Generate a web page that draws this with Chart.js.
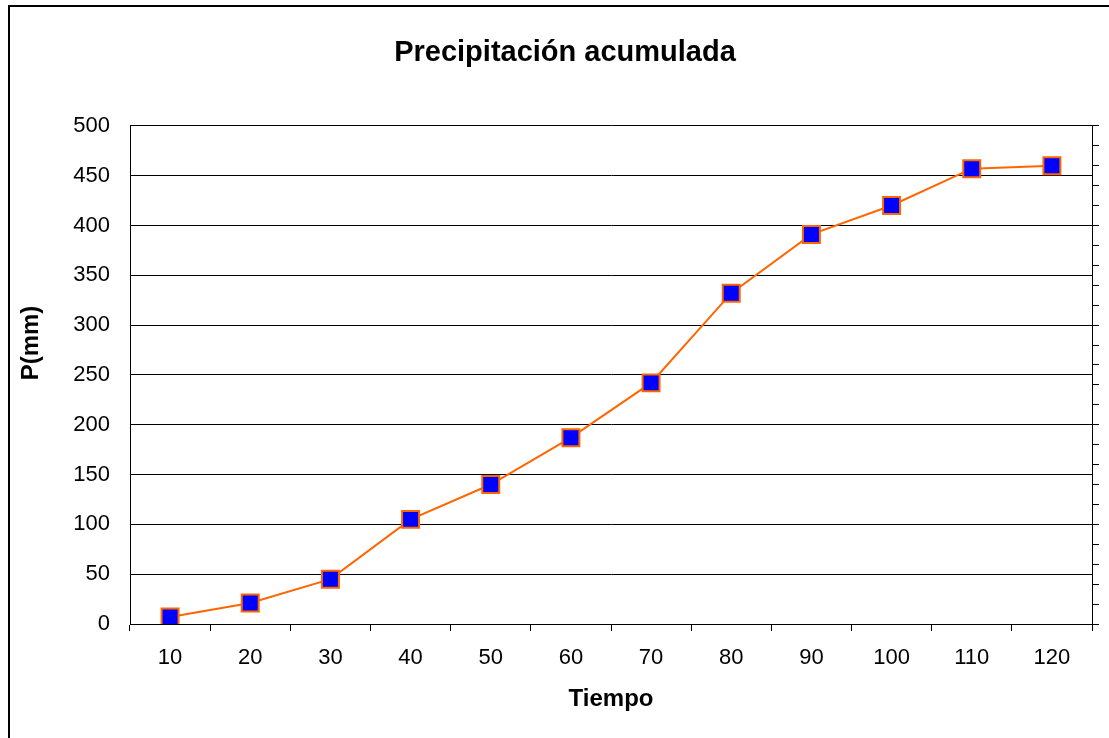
<!DOCTYPE html>
<html>
<head>
<meta charset="utf-8">
<script src="https://cdn.jsdelivr.net/npm/chart.js@4"></script>
<style>
  body { margin: 0; background: #fff; overflow: hidden; }
  #frame { position: absolute; left: 8px; top: 5px; width: 1200px; height: 800px;
           border-left: 2px solid #000; border-top: 2px solid #000; }
  #chart { position: absolute; left: 0; top: 0; }
</style>
</head>
<body>
<div id="frame"></div>
<!-- canvas runs a bit past the window on the right, like the cut-off Excel frame -->
<canvas id="chart" width="1130" height="738"></canvas>
<script>
// data
const tiempo = ['10', '20', '30', '40', '50', '60', '70', '80', '90', '100', '110', '120'];
const precipitacion = [7, 21, 45, 105, 140, 187, 242, 332, 391, 420, 457, 460];
const yTicks = [0, 50, 100, 150, 200, 250, 300, 350, 400, 450, 500];

const fontFamily = '"Liberation Sans", Arial, sans-serif';

// y axis title sits higher than the plot centre in the original, so draw it by hand
const yTitle = {
    id: 'yTitle',
    afterDraw(chart) {
        const c = chart.ctx;
        c.save();
        c.translate(31, 343);
        c.rotate(-Math.PI / 2);
        c.font = 'bold 24px ' + fontFamily;
        c.fillStyle = '#000';
        c.textAlign = 'center';
        c.textBaseline = 'middle';
        c.fillText('P(mm)', 0, 0);
        c.restore();
    }
};

const ctx = document.getElementById('chart').getContext('2d');
new Chart(ctx, {
    type: 'line',
    data: {
        labels: tiempo,
        datasets: [{
            label: 'P(mm)',
            data: precipitacion,
            borderColor: '#FF6600',
            borderWidth: 2,
            pointStyle: 'rect',
            pointRadius: 12,
            pointBackgroundColor: '#0000FF',
            pointBorderColor: '#FF6600',
            pointBorderWidth: 2,
            tension: 0
        }]
    },
    options: {
        responsive: false,
        animation: false,
        devicePixelRatio: 1,
        layout: { padding: 0 },
        plugins: {
            legend: { display: false },
            tooltip: { enabled: false },
            title: {
                display: true,
                text: 'Precipitación acumulada',
                color: '#000',
                font: { family: fontFamily, size: 29, weight: 'bold' },
                padding: { top: 36, bottom: 55 }
            }
        },
        scales: {
            x: {
                offset: true,
                grid: { offset: true, drawOnChartArea: false, color: '#000', tickLength: 7 },
                border: { color: '#000', width: 1 },
                ticks: { color: '#000', font: { family: fontFamily, size: 22 }, padding: 14, maxRotation: 0 },
                title: {
                    display: true, text: 'Tiempo', color: '#000',
                    font: { family: fontFamily, size: 24, weight: 'bold' },
                    padding: { top: 24, bottom: 24 }
                },
                afterFit: s => { s.height = 114; }
            },
            y: {
                min: 0, max: 500,
                afterBuildTicks: s => { s.ticks = yTicks.map(v => ({ value: v })); },
                grid: { color: '#000', drawTicks: false },
                border: { color: '#000', width: 1 },
                ticks: { color: '#000', font: { family: fontFamily, size: 22 }, padding: 20 },
                afterFit: s => { s.width = 130; }
            },
            y2: {
                position: 'right',
                min: 0, max: 500,
                ticks: { stepSize: 10, callback: () => '', padding: 0 },
                grid: { drawOnChartArea: false, color: '#000', tickLength: 7 },
                border: { color: '#000', width: 1 },
                afterFit: s => { s.width = 38; }
            }
        }
    },
    plugins: [yTitle]
});
</script>
</body>
</html>
